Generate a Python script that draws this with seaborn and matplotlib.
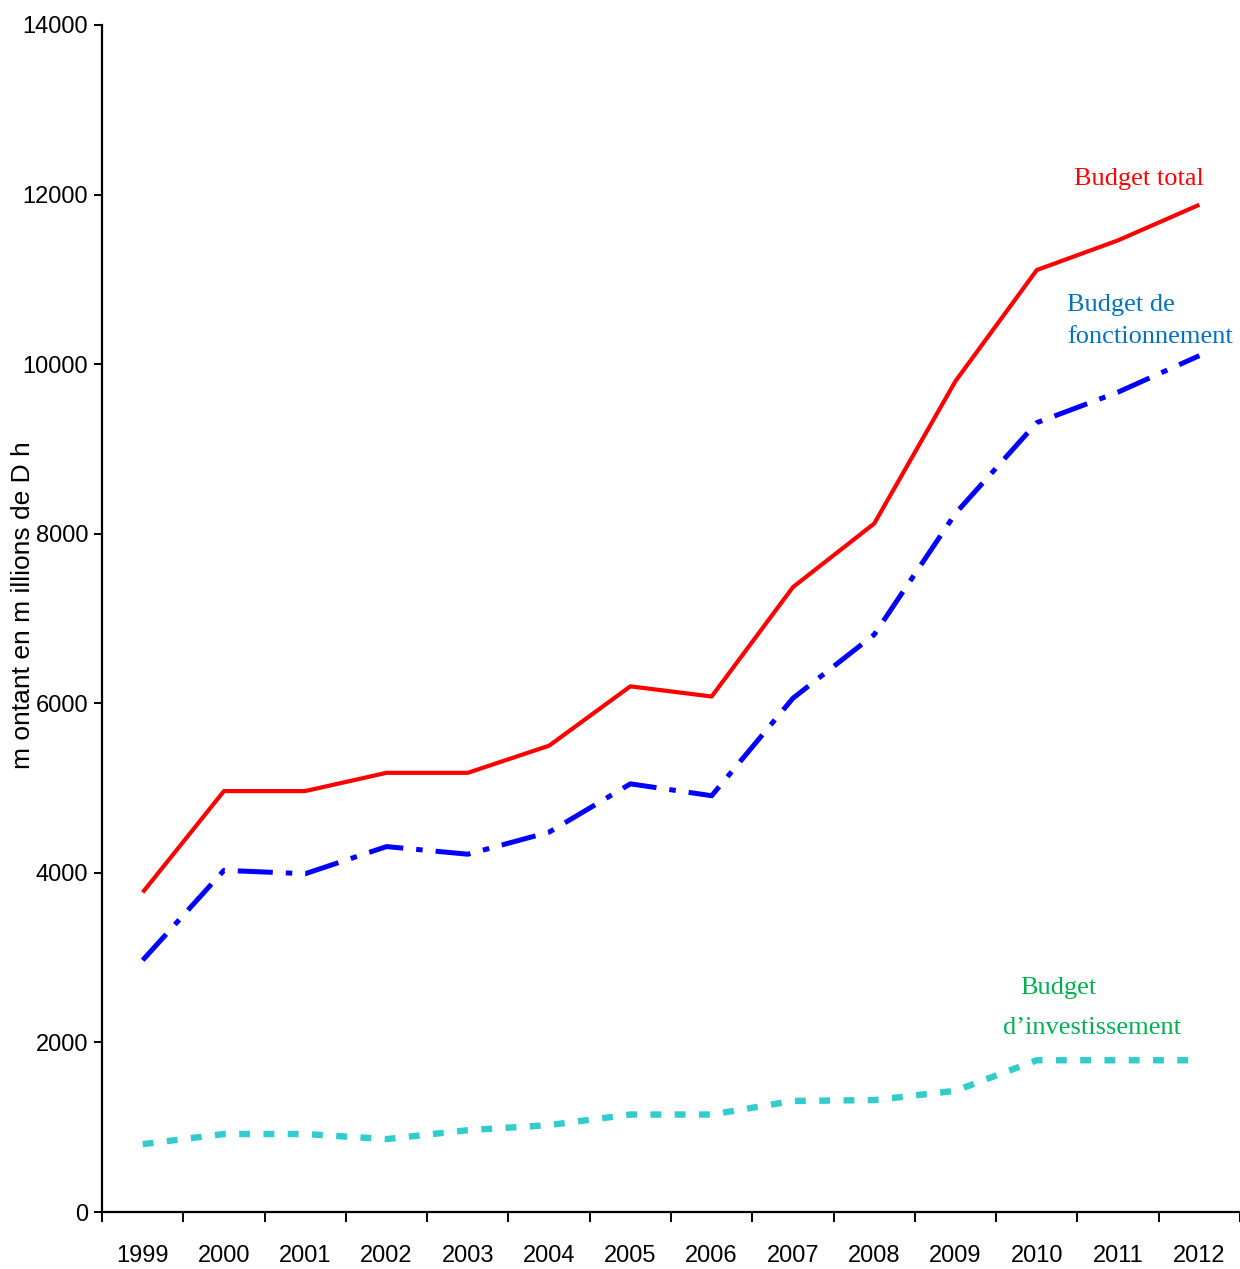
import numpy as np
import pandas as pd
import matplotlib
matplotlib.use("Agg")
import matplotlib.pyplot as plt
import seaborn as sns
from matplotlib.ticker import FixedLocator

# ---------------------------
# Data (millions de Dh)
# ---------------------------
annees = [1999, 2000, 2001, 2002, 2003, 2004, 2005, 2006, 2007, 2008, 2009, 2010, 2011, 2012]
budget_total = [3770, 4965, 4965, 5180, 5180, 5500, 6200, 6080, 7370, 8120, 9800, 11110, 11460, 11880]
budget_fonctionnement = [2970, 4030, 3990, 4310, 4220, 4480, 5050, 4910, 6060, 6810, 8240, 9310, 9670, 10100]
budget_investissement = [800, 920, 920, 860, 965, 1025, 1150, 1150, 1310, 1320, 1430, 1790, 1790, 1790]

sns.set_theme(style="white")
plt.rcParams["font.family"] = ["Liberation Sans Narrow", "Liberation Sans", "DejaVu Sans"]

fig = plt.figure(figsize=(12.4, 12.69), dpi=100)
ax = fig.add_axes([0.0823, 0.0449, 0.9177, 0.9354])

# one call per series so each keeps its own dash pattern and width
sns.lineplot(x=annees, y=budget_total, color="#FF0000", linewidth=3.0, ax=ax)
sns.lineplot(x=annees, y=budget_fonctionnement, color="#0000FF", linewidth=3.6,
             linestyle=(0, (7.0, 2.6, 1.3, 2.6)), ax=ax)
sns.lineplot(x=annees, y=budget_investissement, color="#33CCCC", linewidth=4.6,
             linestyle=(0, (1.7, 2.1)), ax=ax)
for line in ax.get_lines():
    line.set_dash_capstyle("butt")
    line.set_solid_capstyle("butt")

# ---------------------------
# Axes styling
# ---------------------------
ax.set_xlim(annees[0] - 0.5, annees[-1] + 0.5)
ax.set_ylim(0, 14000)
ax.set_yticks(np.arange(0, 14001, 2000))
ax.set_xticks(annees)
ax.set_xticklabels([str(a) for a in annees])
ax.xaxis.set_minor_locator(FixedLocator([a - 0.5 for a in annees] + [annees[-1] + 0.5]))

for side in ["top", "right"]:
    ax.spines[side].set_visible(False)
for side in ["left", "bottom"]:
    ax.spines[side].set_color("black")
    ax.spines[side].set_linewidth(1.6)

ax.tick_params(axis="x", which="major", length=0, pad=24, labelsize=17, colors="black")
ax.tick_params(axis="x", which="minor", bottom=True, direction="out", length=7, width=1.4, color="black")
ax.tick_params(axis="y", which="major", left=True, direction="out", length=6, width=1.4, pad=4,
               labelsize=17, colors="black")

ax.set_xlabel("")
ax.set_ylabel("m ontant en m illions de D h", fontsize=19, family=["Liberation Sans", "DejaVu Sans"],
              color="black")
ax.yaxis.set_label_coords(-0.059, 0.511)

# ---------------------------
# Annotations
# ---------------------------
serif = ["Liberation Serif", "DejaVu Serif"]
ax.text(2010.46, 12180, "Budget total", color="#FF0000", fontsize=19, family=serif, va="center")
ax.text(2010.37, 10700, "Budget de", color="#0070C0", fontsize=19, family=serif, va="center")
ax.text(2010.37, 10320, "fonctionnement", color="#0070C0", fontsize=19, family=serif, va="center")
ax.text(2009.79, 2640, "Budget", color="#00B050", fontsize=19, family=serif, va="center")
ax.text(2009.58, 2170, "d\u2019investissement", color="#00B050", fontsize=19, family=serif, va="center")

fig.savefig("out.png", dpi=100)
